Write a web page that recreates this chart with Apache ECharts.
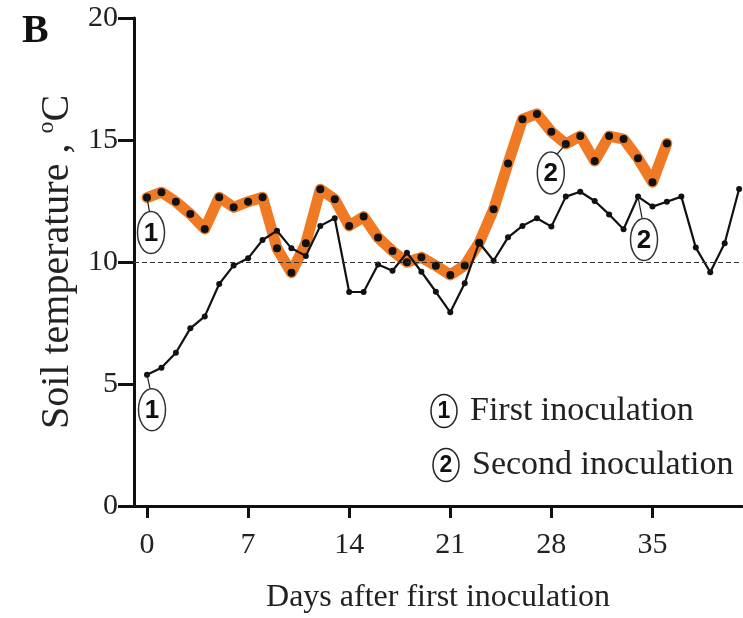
<!DOCTYPE html>
<html><head><meta charset="utf-8">
<script src="https://cdn.jsdelivr.net/npm/echarts@6/dist/echarts.min.js"></script>
<style>html,body{margin:0;padding:0;background:#fff}#c{width:743px;height:618px}</style>
</head><body><div id="c"></div>
<script>
// ---- data ----
const orangeDays = [0,1,2,3,4,5,6,7,8,9,10,11,12,13,14,15,16,17,18,19,20,21,22,23,24,25,26,27,28,29,30,31,32,33,34,35,36];
const orangeTemp = [12.64,12.86,12.47,11.97,11.35,12.65,12.24,12.47,12.65,10.56,9.56,10.77,12.98,12.57,11.48,11.86,11.0,10.45,9.99,10.19,9.85,9.47,9.86,10.79,12.16,14.04,15.85,16.07,15.34,14.84,15.16,14.14,15.16,15.04,14.25,13.27,14.86];
const blackDays = [0,1,2,3,4,5,6,7,8,9,10,11,12,13,14,15,16,17,18,19,20,21,22,23,24,25,26,27,28,29,30,31,32,33,34,35,36,37,38,39,40,41];
const blackTemp = [5.38,5.67,6.28,7.28,7.77,9.10,9.86,10.15,10.90,11.28,10.56,10.25,11.48,11.79,8.77,8.77,9.9,9.64,10.38,9.60,8.78,7.94,9.13,10.79,10.05,11.01,11.48,11.79,11.45,12.68,12.88,12.5,11.95,11.34,12.68,12.27,12.47,12.68,10.59,9.58,10.77,12.99];
const xTicks = [0,7,14,21,28,35];
const yTicks = [0,5,10,15,20];
const thresholdTemp = 10;
const legendItems = ['First inoculation','Second inoculation'];
// callouts: [seriesIndex, day, label]
const callouts = [[0,0,'1'],[1,0,'1'],[0,29,'2'],[1,34,'2']];

const serif = 'Liberation Serif';
const chart = echarts.init(document.getElementById('c'));
const pair = (d, v) => d.map((x, i) => [x, v[i]]);

chart.setOption({
  animation: false,
  backgroundColor: '#fff',
  grid: {left: 134, right: 1, top: 18, bottom: 112, outerBoundsMode: 'none', containLabel: false},
  xAxis: {
    type: 'value', min: -0.9, max: 41.2,
    name: 'Days after first inoculation', nameLocation: 'middle', nameGap: 76,
    nameTextStyle: {fontFamily: serif, fontSize: 32, color: '#222'},
    axisLine: {show: true, onZero: false, lineStyle: {color: '#111', width: 3}},
    axisTick: {show: true, inside: false, length: 12, customValues: xTicks, lineStyle: {color: '#111', width: 3}},
    axisLabel: {customValues: xTicks, fontFamily: serif, fontSize: 30, color: '#222', margin: 24},
    splitLine: {show: false}
  },
  yAxis: {
    type: 'value', min: 0, max: 20, interval: 5,
    name: 'Soil temperature , {sup|o}C', nameLocation: 'middle', nameGap: 52,
    nameTextStyle: {fontFamily: serif, fontSize: 40, color: '#222',
      rich: {sup: {fontFamily: serif, fontSize: 24, color: '#222', verticalAlign: 'top', padding: [0, 0, 20, 0]}}},
    axisLine: {show: true, onZero: false, lineStyle: {color: '#111', width: 3}},
    axisTick: {show: true, inside: false, length: 12, customValues: yTicks, lineStyle: {color: '#111', width: 3}},
    axisLabel: {fontFamily: serif, fontSize: 30, color: '#222', margin: 16},
    splitLine: {show: false}
  },
  series: [
    {
      type: 'line', data: pair(orangeDays, orangeTemp), z: 2,
      lineStyle: {color: '#F07A24', width: 11, join: 'round', cap: 'round'},
      symbol: 'circle', symbolSize: 8, showAllSymbol: true,
      itemStyle: {color: '#111'},
      markLine: {
        silent: true, symbol: 'none', label: {show: false},
        lineStyle: {color: '#333', width: 1, type: [5, 3]},
        data: [{yAxis: thresholdTemp}]
      }
    },
    {
      type: 'line', data: pair(blackDays, blackTemp), z: 3,
      lineStyle: {color: '#111', width: 2.2},
      symbol: 'circle', symbolSize: 6, showAllSymbol: true,
      itemStyle: {color: '#111'}
    }
  ]
});

const g = [];
g.push({type: 'text', left: 22, top: 12, style: {text: 'B', font: 'bold 40px "Liberation Serif"', fill: '#111'}});
// y-axis tick marks, positioned through the axis scale
const axisX = chart.convertToPixel({xAxisIndex: 0}, -0.9);
yTicks.forEach(v => {
  const y = Math.round(chart.convertToPixel({yAxisIndex: 0}, v)) + 0.5;
  g.push({type: 'line', z: 5, shape: {x1: axisX - 16, y1: y, x2: axisX, y2: y}, style: {stroke: '#111', lineWidth: 3}});
});
// callout ovals anchored to data points
const offsets = [[4, 35], [5, 35], [-15, 29], [6, 43]];
callouts.forEach((c, k) => {
  const s = c[0];
  const days = s === 0 ? orangeDays : blackDays;
  const vals = s === 0 ? orangeTemp : blackTemp;
  const p = chart.convertToPixel({seriesIndex: s}, [c[1], vals[days.indexOf(c[1])]]);
  const cx = p[0] + offsets[k][0], cy = p[1] + offsets[k][1];
  const ry = 21, rx = 13.5;
  const ang = Math.atan2(p[1] - cy, p[0] - cx);
  const ex = cx + rx * Math.cos(ang), ey = cy + ry * Math.sin(ang);
  g.push({type: 'line', z: 10, shape: {x1: p[0], y1: p[1], x2: ex, y2: ey}, style: {stroke: '#222', lineWidth: 1.2}});
  g.push({type: 'ellipse', z: 10, shape: {cx: cx, cy: cy, rx: rx, ry: ry}, style: {fill: '#fff', stroke: '#333', lineWidth: 1.5}});
  g.push({type: 'text', z: 11, x: cx, y: cy + 1, style: {text: c[2], font: 'bold 26px "Liberation Sans"', fill: '#111', align: 'center', verticalAlign: 'middle'}});
});
// legend
legendItems.forEach((t, i) => {
  const cx = 444 + i * 2, cy = 411 + i * 54;
  g.push({type: 'ellipse', z: 10, shape: {cx: cx, cy: cy, rx: 13, ry: 16.5}, style: {fill: '#fff', stroke: '#222', lineWidth: 1.5}});
  g.push({type: 'text', z: 11, x: cx, y: cy + 1, style: {text: String(i + 1), font: 'bold 23px "Liberation Sans"', fill: '#111', align: 'center', verticalAlign: 'middle'}});
  g.push({type: 'text', z: 11, x: cx + 26, y: cy, style: {text: t, font: '34px "Liberation Serif"', fill: '#222', align: 'left', verticalAlign: 'middle'}});
});
chart.setOption({graphic: g});
</script>
</body></html>
